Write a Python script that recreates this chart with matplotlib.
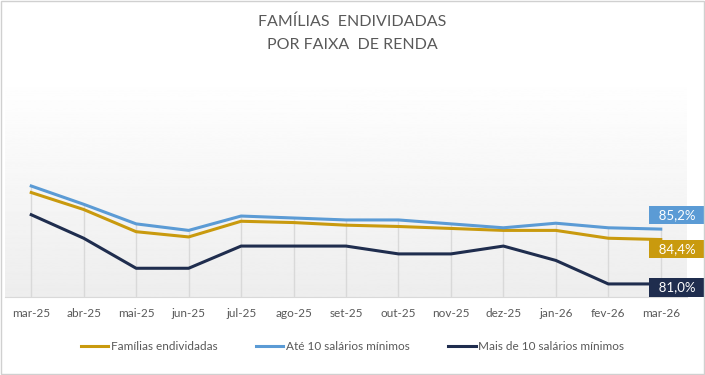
import matplotlib
matplotlib.use("Agg")
from matplotlib import pyplot as plt
import numpy as np

plt.rcParams['font.family'] = ['Lato', 'DejaVu Sans']

# dados
meses = ["mar-25", "abr-25", "mai-25", "jun-25", "jul-25", "ago-25", "set-25",
         "out-25", "nov-25", "dez-25", "jan-26", "fev-26", "mar-26"]
familias = [88.0, 86.7, 85.0, 84.6, 85.8, 85.7, 85.5, 85.4, 85.25, 85.1, 85.1, 84.5, 84.4]
ate_10 = [88.5, 87.1, 85.6, 85.1, 86.2, 86.05, 85.9, 85.9, 85.6, 85.3, 85.65, 85.3, 85.2]
mais_10 = [86.3, 84.5, 82.2, 82.2, 83.9, 83.9, 83.9, 83.3, 83.3, 83.9, 82.8, 81.0, 81.0]

nomes = ["Famílias endividadas", "Até 10 salários mínimos", "Mais de 10 salários mínimos"]
cores = ["#C99A0E", "#5B9BD5", "#1F2D4E"]
series = [familias, ate_10, mais_10]

cinza = "#595959"

fig = plt.figure(figsize=(7.05, 3.75), dpi=100)
ax = fig.add_axes([5 / 705, 1 - 297 / 375, 682 / 705, 222 / 375])

x = np.arange(len(meses))
ymin, ymax = 80, 97
ax.set_xlim(-0.5, 12.5)
ax.set_ylim(ymin, ymax)

# fundo em degradê
grad = np.linspace(1.0, 0.93, 256).reshape(-1, 1)
ax.imshow(grad, extent=[-0.5, 12.5, ymin, ymax], aspect="auto", cmap="gray",
          vmin=0, vmax=1, zorder=0, origin="upper")

# linhas de queda
topo = np.max(np.array(series), axis=0)
ax.vlines(x, ymin, topo, color="#d9d9d9", linewidth=1, zorder=1)

for vals, nome, cor in zip(series, nomes, cores):
    ax.plot(x, vals, color=cor, linewidth=2.2, label=nome, zorder=3)

# rótulos finais (ordem: famílias, até 10, mais de 10)
offsets = [(12, -7), (12, 10), (12, -2.5)]
for vals, cor, off in zip(series, cores, offsets):
    txt = "  {:.1f}%  ".format(vals[-1]).replace(".", ",")
    ax.annotate(txt, (x[-1], vals[-1]),
                xytext=off, textcoords="offset points", ha="center", va="center",
                color="white", fontsize=9.5, zorder=5, annotation_clip=False,
                bbox=dict(boxstyle="square,pad=0.24", fc=cor, ec="none"))

ax.set_xticks(x)
ax.set_xticklabels(meses, fontsize=8.5, color=cinza)
ax.tick_params(axis="x", length=0, pad=8)
ax.set_yticks([])
for s in ["top", "left", "right"]:
    ax.spines[s].set_visible(False)
ax.spines["bottom"].set_color("#d9d9d9")

fig.text(0.5, 1 - 33 / 375, "FAMÍLIAS  ENDIVIDADAS\nPOR FAIXA  DE RENDA", ha="center",
         va="center", fontsize=11.5, color=cinza, linespacing=1.8)

leg = fig.legend(loc="center", bbox_to_anchor=(0.5, 1 - 347 / 375), ncol=3, frameon=False,
                 fontsize=8.5, handlelength=2.3, handletextpad=0.2, columnspacing=3.3)
for t in leg.get_texts():
    t.set_color(cinza)

# borda
fig.patches.append(plt.Rectangle((0.001, 0.002), 0.997, 0.995, transform=fig.transFigure,
                                 fill=False, ec="#d0d0d0", lw=1))

fig.savefig("out.png", dpi=100)
